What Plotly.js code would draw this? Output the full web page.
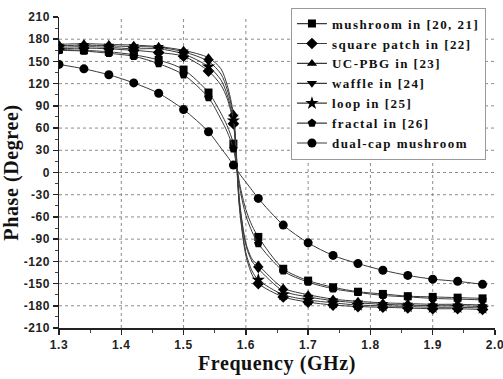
<!DOCTYPE html>
<html>
<head>
<meta charset="utf-8">
<script src="https://cdn.plot.ly/plotly-3.0.1.min.js"></script>
<style>
html,body{margin:0;padding:0;background:#fff;}
#chart{width:503px;height:379px;}
text.legendtext{letter-spacing:1.45px;}
g.xtick text, g.ytick text{letter-spacing:0.6px;}
text.xtitle, text.ytitle{letter-spacing:0.6px;}
</style>
</head>
<body>
<div id="chart"></div>
<script>
// Frequencies (GHz) at which markers are drawn
const freq = [1.30,1.34,1.38,1.42,1.46,1.50,1.54,1.58,1.62,1.66,1.70,1.74,1.78,1.82,1.86,1.90,1.94,1.98];
// Extra points read along the steep transition (line only, no markers)
const freqMid = [1.56,1.57,1.59,1.60,1.61];

const names = ["mushroom in [20, 21]","square patch in [22]","UC-PBG in [23]","waffle in [24]","loop in [25]","fractal in [26]","dual-cap mushroom"];

const mushroom    = [166,165,163,159,152,139,108,39,-87,-130,-146,-155,-161,-164,-167,-168,-169,-170];
const squarePatch = [167,168,167,165,162,157,137,66,-150,-168,-175,-179,-181,-182,-183,-184,-184,-185];
const ucpbg       = [173,174,173,172,170,165,155,79,-125,-156,-165,-171,-174,-176,-177,-178,-178,-179];
const waffle      = [171,172,171,170,169,163,150,75,-130,-160,-168,-173,-176,-178,-179,-180,-180,-181];
const loop        = [169,170,169,167,167,160,143,70,-145,-165,-172,-176,-179,-180,-181,-182,-182,-183];
const fractal     = [165,164,161,157,147,132,101,32,-96,-133,-148,-157,-162,-166,-168,-170,-171,-172];
const dualCap     = [146,140,132,121,107,85,55,10,-35,-71,-95,-112,-123,-132,-139,-144,-147,-151];

const mushroomMid    = [80,63,-15,-50,-72];
const squarePatchMid = [118,100,-50,-112,-138];
const ucpbgMid       = [140,118,-40,-95,-117];
const waffleMid      = [133,112,-42,-98,-120];
const loopMid        = [125,105,-48,-108,-133];
const fractalMid     = [72,55,-20,-58,-80];
const dualCapMid     = [33,22,-2,-13,-24];

const xTicks = [1.3,1.4,1.5,1.6,1.7,1.8,1.9,2.0];
const xTickText = ["1.3","1.4","1.5","1.6","1.7","1.8","1.9","2.0"];
const yTicks = [-210,-180,-150,-120,-90,-60,-30,0,30,60,90,120,150,180,210];
const yTickText = ["-210","-180","-150","-120","-90","-60","-30","0","30","60","90","120","150","180","210"];

const series = [mushroom,squarePatch,ucpbg,waffle,loop,fractal,dualCap];
const seriesMid = [mushroomMid,squarePatchMid,ucpbgMid,waffleMid,loopMid,fractalMid,dualCapMid];
const symbols = ["square","diamond","triangle-up","triangle-down","star","pentagon","circle"];
const sizes = [8,9,9,9,10,9,9];

const traces = [];
series.forEach((vals,i)=>{
  const pts = freq.map((f,k)=>[f,vals[k]]).concat(freqMid.map((f,k)=>[f,seriesMid[i][k]]));
  pts.sort((a,b)=>a[0]-b[0]);
  traces.push({x:pts.map(p=>p[0]), y:pts.map(p=>p[1]), mode:'lines', type:'scatter',
    line:{color:'#3a3a3a', width:1, shape:'spline', smoothing:0.8}, showlegend:false, hoverinfo:'skip'});
  traces.push({x:freq, y:vals, mode:'markers', type:'scatter',
    marker:{symbol:symbols[i], size:sizes[i], color:'#000'}, showlegend:false});
  traces.push({x:[null], y:[null], mode:'lines+markers', type:'scatter', name:names[i],
    line:{color:'#3a3a3a', width:1.2}, marker:{symbol:symbols[i], size:sizes[i], color:'#000'}});
});

const shapes = [];
xTicks.slice(1,-1).forEach(v=>shapes.push({type:'line', xref:'x', yref:'paper', x0:v, x1:v, y0:0, y1:1,
  line:{color:'#8c8c8c', width:1, dash:'3px,3px'}, layer:'below'}));
yTicks.slice(1,-1).forEach(v=>shapes.push({type:'line', xref:'paper', yref:'y', x0:0, x1:1, y0:v, y1:v,
  line:{color:'#8c8c8c', width:1, dash:'3px,3px'}, layer:'below'}));

const tickFont = {family:'Liberation Sans, Arial, sans-serif', size:12, color:'#222', weight:'bold'};
const titleFont = {family:'Liberation Serif, Times New Roman, serif', size:20, color:'#111', weight:'bold'};

const layout = {
  width:503, height:379,
  margin:{l:59, r:8, t:13, b:51},
  paper_bgcolor:'#fff', plot_bgcolor:'#fff',
  showlegend:true,
  shapes:shapes,
  xaxis:{range:[1.3,2.0], tickvals:xTicks, ticktext:xTickText, showgrid:false, zeroline:false,
    ticklabeloverflow:'allow',
    showline:true, linecolor:'#222', linewidth:1.5, ticks:'outside', ticklen:5, tickwidth:1.5, tickcolor:'#222',
    minor:{ticks:'outside', ticklen:3, tickwidth:1, tickcolor:'#444', dtick:0.05, tick0:1.3, showgrid:false},
    tickfont:tickFont, title:{text:'Frequency (GHz)', font:titleFont, standoff:5}},
  yaxis:{range:[-210,210], tickvals:yTicks, ticktext:yTickText, showgrid:false, zeroline:false,
    ticklabeloverflow:'allow',
    showline:true, linecolor:'#222', linewidth:1.5, ticks:'outside', ticklen:5, tickwidth:1.5, tickcolor:'#222',
    minor:{ticks:'outside', ticklen:3, tickwidth:1, tickcolor:'#444', dtick:15, tick0:-210, showgrid:false},
    tickfont:tickFont, title:{text:'Phase (Degree)', font:titleFont, standoff:4}},
  legend:{x:0.532, y:1.03, xanchor:'left', yanchor:'top', bgcolor:'#fff', bordercolor:'#999', borderwidth:1,
    font:{family:'Liberation Serif, Times New Roman, serif', size:13, color:'#111', weight:'bold'},
    tracegroupgap:0, itemwidth:30}
};

Plotly.newPlot('chart', traces, layout, {displayModeBar:false, staticPlot:true});
</script>
</body>
</html>
